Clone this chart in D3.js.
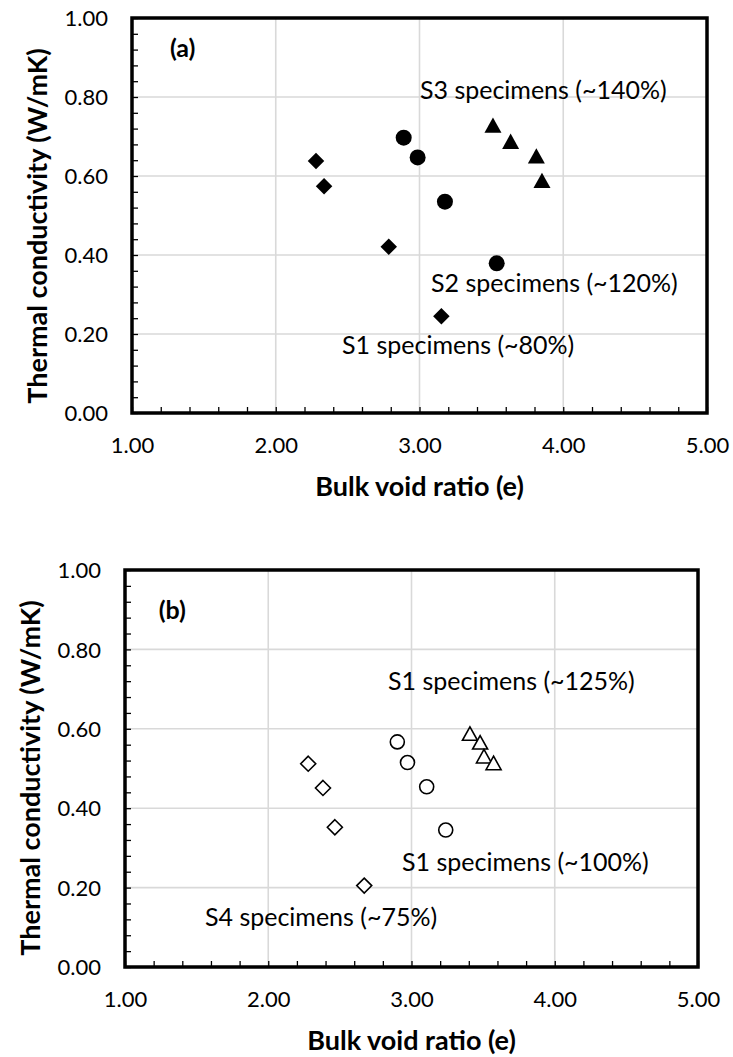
<!DOCTYPE html>
<html>
<head>
<meta charset="utf-8">
<script src="https://cdn.jsdelivr.net/npm/d3@7"></script>
<style>
  body { margin: 0; background: #fff; }
  svg text { font-family: Lato, "Open Sans", sans-serif; fill: #000; }
</style>
</head>
<body>
<svg id="fig" width="733" height="1057"></svg>
<script>
// ---- data: panel (a) ----
const aS1VoidRatio = [2.28, 2.336, 2.786, 3.152];
const aS1Conductivity = [0.638, 0.574, 0.421, 0.245];
const aS2VoidRatio = [2.89, 2.987, 3.177, 3.537];
const aS2Conductivity = [0.697, 0.647, 0.535, 0.379];
const aS3VoidRatio = [3.511, 3.634, 3.813, 3.852];
const aS3Conductivity = [0.729, 0.688, 0.651, 0.589];

// ---- data: panel (b) ----
const bS4VoidRatio = [2.279, 2.382, 2.465, 2.67];
const bS4Conductivity = [0.512, 0.451, 0.352, 0.205];
const bS1LowVoidRatio = [2.901, 2.972, 3.106, 3.239];
const bS1LowConductivity = [0.567, 0.515, 0.454, 0.345];
const bS1HighVoidRatio = [3.408, 3.479, 3.506, 3.573];
const bS1HighConductivity = [0.588, 0.566, 0.531, 0.514];

// ---- axis ticks and labels ----
const xMajorTicks = [1, 2, 3, 4, 5];
const yMajorTicks = [0, 0.2, 0.4, 0.6, 0.8, 1.0];
const xTitle = "Bulk void ratio (e)";
const yTitle = "Thermal conductivity (W/mK)";
const panelTags = ["(a)", "(b)"];
const aGroupLabels = ["S1 specimens (~80%)", "S2 specimens (~120%)", "S3 specimens (~140%)"];
const bGroupLabels = ["S4 specimens (~75%)", "S1 specimens (~100%)", "S1 specimens (~125%)"];

const svg = d3.select("#fig");
svg.append("rect").attr("width", 733).attr("height", 1057).attr("fill", "#fff");

// marker shapes: square diamond and a triangle centred on its bounding box
const symDiamond = {
  draw(ctx, size) {
    const r = Math.sqrt(size) / 2;
    ctx.moveTo(0, -r); ctx.lineTo(r, 0); ctx.lineTo(0, r); ctx.lineTo(-r, 0); ctx.closePath();
  }
};
const symTriangle = {
  draw(ctx, size) {
    const w = Math.sqrt(size), h = w * 0.9;
    ctx.moveTo(0, -h / 2); ctx.lineTo(w / 2, h / 2); ctx.lineTo(-w / 2, h / 2); ctx.closePath();
  }
};

const fmt = d3.format(".2f");

function drawPanel(p) {
  const g = svg.append("g");
  const x = d3.scaleLinear().domain([1, 5]).range([p.left, p.right]);
  const y = d3.scaleLinear().domain([0, 1]).range([p.bottom, p.top]);

  // gridlines
  g.append("g").selectAll("line.vx").data(xMajorTicks.slice(1, -1)).join("line")
    .attr("x1", d => x(d)).attr("x2", d => x(d))
    .attr("y1", p.top).attr("y2", p.bottom)
    .attr("stroke", "#d9d9d9").attr("stroke-width", 1.6);
  g.append("g").selectAll("line.hy").data(yMajorTicks.slice(1, -1)).join("line")
    .attr("y1", d => y(d)).attr("y2", d => y(d))
    .attr("x1", p.left).attr("x2", p.right)
    .attr("stroke", "#d9d9d9").attr("stroke-width", 1.6);

  // minor tick marks pointing into the plot
  const xMinor = g.append("g").attr("transform", `translate(0,${p.bottom})`)
    .call(d3.axisBottom(x).tickValues(d3.range(1, 5.0001, 0.2)).tickSize(-6).tickFormat(""));
  const yMinor = g.append("g").attr("transform", `translate(${p.left},0)`)
    .call(d3.axisLeft(y).tickValues(d3.range(0, 1.0001, 0.04)).tickSize(-6).tickFormat(""));
  [xMinor, yMinor].forEach(a => {
    a.select(".domain").remove();
    a.selectAll("line").attr("stroke", "#000").attr("stroke-width", 1.3);
  });

  // frame
  g.append("rect")
    .attr("x", p.left).attr("y", p.top)
    .attr("width", p.right - p.left).attr("height", p.bottom - p.top)
    .attr("fill", "none").attr("stroke", "#000").attr("stroke-width", 3.5);

  // tick labels
  const xLab = g.append("g").attr("transform", `translate(0,${p.bottom})`)
    .call(d3.axisBottom(x).tickValues(xMajorTicks).tickSize(0).tickPadding(0).tickFormat(fmt));
  xLab.select(".domain").remove();
  xLab.selectAll("text").attr("y", 40).attr("dy", null)
    .style("font-size", "22px").attr("fill", "#000");

  const yLab = g.append("g").attr("transform", `translate(${p.left},0)`)
    .call(d3.axisLeft(y).tickValues(yMajorTicks).tickSize(0).tickPadding(0).tickFormat(fmt));
  yLab.select(".domain").remove();
  yLab.selectAll("text").attr("x", -24).attr("dy", "0.35em")
    .style("font-size", "22px").attr("fill", "#000");

  // axis titles
  g.append("text")
    .attr("x", (p.left + p.right) / 2).attr("y", p.bottom + 83)
    .attr("text-anchor", "middle")
    .style("font-size", "27px").style("font-weight", "bold")
    .text(xTitle);
  g.append("text")
    .attr("transform", `translate(${p.yTitleX},${p.yTitleY}) rotate(-90)`)
    .attr("text-anchor", "middle")
    .style("font-size", "27px").style("font-weight", "bold")
    .text(yTitle);

  // data points
  p.series.forEach(s => {
    const pts = s.xs.map((v, i) => [v, s.ys[i]]);
    g.append("g").selectAll("path").data(pts).join("path")
      .attr("transform", d => `translate(${x(d[0])},${y(d[1])})`)
      .attr("d", d3.symbol().type(s.type).size(s.size))
      .attr("fill", s.fill)
      .attr("stroke", s.stroke)
      .attr("stroke-width", s.strokeWidth);
  });

  // panel tag and group annotations
  g.append("text")
    .attr("x", x(p.tag.at[0])).attr("y", y(p.tag.at[1]))
    .style("font-size", "25px").style("font-weight", "bold")
    .text(p.tag.text);
  p.notes.forEach(n => {
    g.append("text")
      .attr("x", x(n.at[0])).attr("y", y(n.at[1]))
      .style("font-size", "25px")
      .text(n.text);
  });
}

const filledStyle = { fill: "#000", stroke: "none", strokeWidth: 0 };
const openStyle = { fill: "#fff", stroke: "#000", strokeWidth: 1.6 };

drawPanel({
  left: 132, right: 707, top: 18, bottom: 413,
  yTitleX: 47, yTitleY: 226,
  series: [
    { xs: aS1VoidRatio, ys: aS1Conductivity, type: symDiamond, size: 16.5 * 16.5, ...filledStyle },
    { xs: aS2VoidRatio, ys: aS2Conductivity, type: d3.symbolCircle, size: Math.PI * 8 * 8, ...filledStyle },
    { xs: aS3VoidRatio, ys: aS3Conductivity, type: symTriangle, size: 17 * 17, ...filledStyle }
  ],
  tag: { text: panelTags[0], at: [1.264, 0.901] },
  notes: [
    { text: aGroupLabels[0], at: [2.461, 0.149] },
    { text: aGroupLabels[1], at: [3.08, 0.306] },
    { text: aGroupLabels[2], at: [3.003, 0.795] }
  ]
});

drawPanel({
  left: 125, right: 698, top: 570, bottom: 967,
  yTitleX: 40, yTitleY: 778,
  series: [
    { xs: bS4VoidRatio, ys: bS4Conductivity, type: symDiamond, size: 15 * 15, ...openStyle },
    { xs: bS1LowVoidRatio, ys: bS1LowConductivity, type: d3.symbolCircle, size: Math.PI * 7 * 7, ...openStyle },
    { xs: bS1HighVoidRatio, ys: bS1HighConductivity, type: symTriangle, size: 15 * 15, ...openStyle }
  ],
  tag: { text: panelTags[1], at: [1.235, 0.877] },
  notes: [
    { text: bGroupLabels[0], at: [1.558, 0.103] },
    { text: bGroupLabels[1], at: [2.934, 0.242] },
    { text: bGroupLabels[2], at: [2.836, 0.698] }
  ]
});
</script>
</body>
</html>
